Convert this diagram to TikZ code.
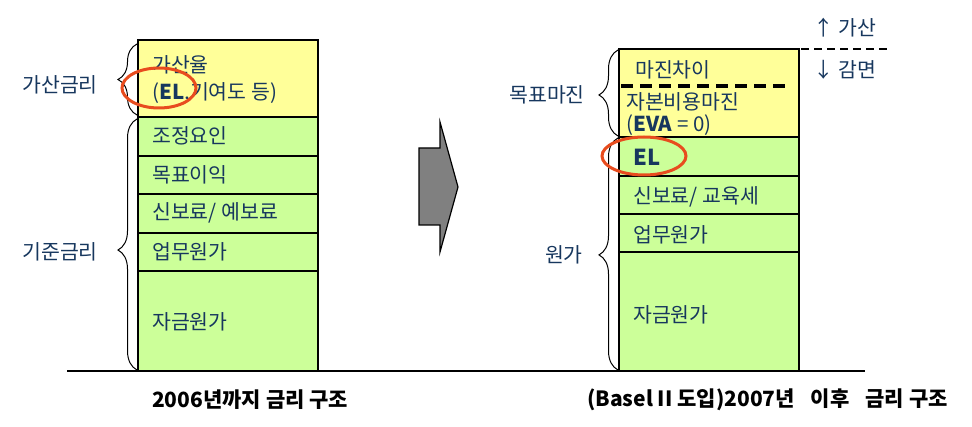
\documentclass[tikz,border=0pt]{standalone}
\usepackage{fontspec}
\setmainfont{Noto Sans CJK KR}
\usetikzlibrary{decorations.pathreplacing}
\definecolor{yel}{HTML}{FFFF99}
\definecolor{grn}{HTML}{CCFF99}
\definecolor{txt}{HTML}{17375E}
\definecolor{ell}{RGB}{232,76,30}
\definecolor{arr}{HTML}{808080}
\begin{document}
\begin{tikzpicture}[x=1pt,y=-1pt,
  rowbox/.style={draw=black,line width=2.5pt,minimum width=180pt,inner sep=0pt,anchor=center},
  lbl/.style={anchor=west,inner sep=0pt,text=txt,font=\fontsize{20.5}{22}\selectfont},
  side/.style={anchor=east,inner sep=0pt,text=txt,font=\fontsize{20.5}{22}\selectfont},
  captext/.style={anchor=west,inner sep=0pt,text=black,font=\fontsize{21}{23}\selectfont\bfseries},
  bracestyle/.style={draw=black,line width=1pt,decorate,decoration={brace,amplitude=19pt}},
  ring/.style={draw=ell,line width=3pt}]
\useasboundingbox (0,0) rectangle (972,427);
% left column
\node[rowbox,fill=yel,minimum height=77pt] (L1) at (228,78.5) {};
\node[rowbox,fill=grn,minimum height=39pt] (L2) at (228,136.5) {};
\node[rowbox,fill=grn,minimum height=38pt] (L3) at (228,175) {};
\node[rowbox,fill=grn,minimum height=39pt] (L4) at (228,213.5) {};
\node[rowbox,fill=grn,minimum height=38pt] (L5) at (228,252) {};
\node[rowbox,fill=grn,minimum height=100pt] (L6) at (228,321) {};
% right column
\node[rowbox,fill=yel,minimum height=88pt] (R1) at (709,93) {};
\node[rowbox,fill=grn,minimum height=39pt] (R2) at (709,156.5) {};
\node[rowbox,fill=grn,minimum height=38pt] (R3) at (709,195) {};
\node[rowbox,fill=grn,minimum height=38pt] (R4) at (709,233) {};
\node[rowbox,fill=grn,minimum height=119pt] (R5) at (709,311.5) {};
% baseline
\coordinate (b0) at (67,371);
\coordinate (b1) at (865,371);
\draw[line width=2.5pt] (b0) -- (b1);
% dashed lines
\coordinate (d0) at (621,86);
\coordinate (d1) at (792,86);
\draw[line width=4pt,dash pattern=on 12pt off 7pt] (d0) -- (d1);
\coordinate (e0) at (801,49);
\coordinate (e1) at (887,49);
\draw[line width=2pt,dash pattern=on 8pt off 5pt] (e0) -- (e1);
% texts left
\node[lbl] (t1) at (152,65) {가산율};
\node[lbl] (t2) at (152,93) {(\textbf{EL},기여도 등)};
\node[lbl] (t3) at (152,136) {조정요인};
\node[lbl] (t4) at (152,175) {목표이익};
\node[lbl] (t5) at (152,213) {신보료/ 예보료};
\node[lbl] (t6) at (152,252) {업무원가};
\node[lbl] (t7) at (152,322) {자금원가};
% texts right
\node[lbl] (u1) at (635,70) {마진차이};
\node[lbl] (u2) at (626,102) {자본비용마진};
\node[lbl] (u3) at (626,125) {(\textbf{EVA} = 0)};
\node[lbl,font=\fontsize{22}{24}\selectfont\bfseries] (u4) at (633,157) {EL};
\node[lbl] (u5) at (633,197) {신보료/ 교육세};
\node[lbl] (u6) at (633,235) {업무원가};
\node[lbl] (u7) at (633,315) {자금원가};
% side labels
\node[side] (s1) at (98,85) {가산금리};
\node[side] (s2) at (98,252) {기준금리};
\node[side] (s3) at (585,95) {목표마진};
\node[side] (s4) at (583,255) {원가};
\node[lbl] (s5) at (813,28) {↑ 가산};
\node[lbl] (s6) at (813,70) {↓ 감면};
% braces
\draw[bracestyle] (137,115) -- (137,44);
\draw[bracestyle,decoration={aspect=0.478}] (137,370) -- (137,119);
\draw[bracestyle,decoration={aspect=0.477}] (618,136) -- (618,50);
\draw[bracestyle,decoration={aspect=0.496}] (618,370) -- (618,138);
% arrow
\draw[fill=arr,line width=1.2pt,line join=miter] (419,148) -- (440,148) -- (440,122) -- (458,187) -- (440,252) -- (440,225) -- (419,225) -- cycle;
% ellipses
\draw[ring] (159,88) ellipse [x radius=37pt, y radius=20pt];
\draw[ring] (644,156) ellipse [x radius=42pt, y radius=19pt];
% captions
\node[captext] (c1) at (152,400) {2006년까지 금리 구조};
\node[captext] (c2) at (587,400) {(Basel II 도입)2007년\hspace{16pt}이후\hspace{16pt}금리 구조};
\end{tikzpicture}
\end{document}
